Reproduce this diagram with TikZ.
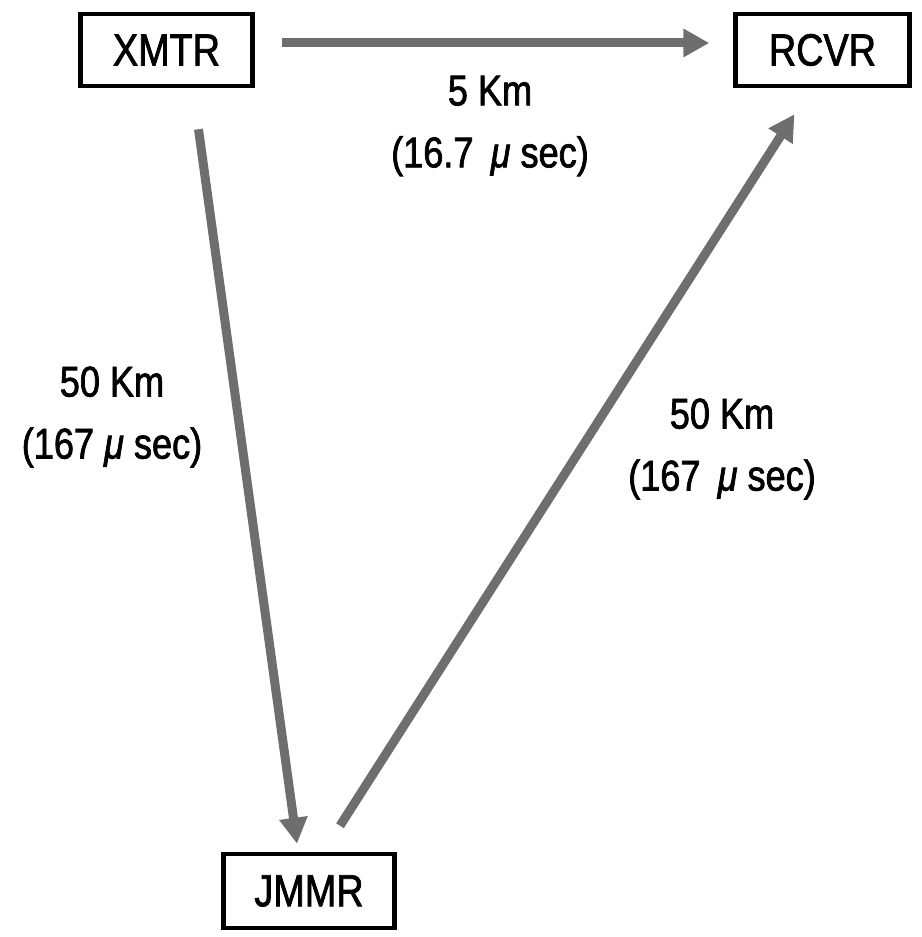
\documentclass[tikz,border=0pt]{standalone}
\usepackage{fontspec}
\setmainfont{Liberation Sans}[FakeStretch=0.84,FakeBold=1.6]
\usetikzlibrary{arrows.meta,calc}
\newcommand{\mymu}{\textit{μ}}
\begin{document}
\begin{tikzpicture}[x=1pt,y=1pt,
  box/.style={draw=black,line width=4.5pt,inner sep=0pt,minimum height=72pt,
    font=\fontsize{45}{50}\selectfont},
  lbl/.style={align=center,font=\fontsize{43}{62}\selectfont,inner sep=0pt},
  link/.style={draw=black!57,line width=9pt,-{Triangle[length=26pt,width=27pt]}}]
\useasboundingbox (0,0) rectangle (921,937);
\node[box,minimum width=172pt] (x) at (166.5,887) {XMTR};
\node[box,minimum width=174pt] (r) at (822.5,887) {RCVR};
\node[box,minimum width=171pt,minimum height=74pt] (j) at (309,46) {JMMR};
\coordinate (h1) at ($(x.east)+(27,7)$);
\coordinate (h2) at ($(r.west)+(-24,7)$);
\coordinate (a1) at ($(x.south)+(32,-41)$);
\coordinate (a2) at ($(j.north)+(-12,8)$);
\coordinate (b1) at ($(j.north)+(31,26)$);
\coordinate (b2) at ($(r.south)+(-28,-26)$);
\draw[link] (h1) -- (h2);
\draw[link] (a1) -- (a2);
\draw[link] (b1) -- (b2);
\node[lbl] (t1) at (490,811) {5 Km\\(16.7 \,\mymu\ sec)};
\node[lbl] (t2) at (112,520) {50 Km\\(167 \mymu\ sec)};
\node[lbl] (t3) at (722,488) {50 Km\\(167 \,\mymu\ sec)};
\end{tikzpicture}
\end{document}
